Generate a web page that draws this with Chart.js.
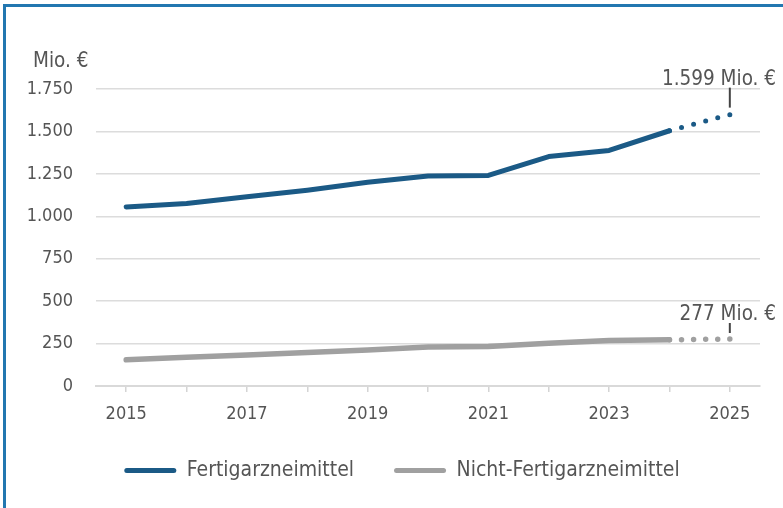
<!DOCTYPE html>
<html>
<head>
<meta charset="utf-8">
<script src="https://cdn.jsdelivr.net/npm/chart.js@4.4.1/dist/chart.umd.min.js"></script>
<style>
  html, body { margin: 0; padding: 0; background: #fff; }
  #wrap { position: relative; width: 783px; height: 508px; overflow: hidden; }
  #frame { position: absolute; left: 3px; top: 4px; width: 900px; height: 700px;
           border-left: 3px solid #2277b0; border-top: 3px solid #2277b0; }
  canvas { position: absolute; left: 0; top: 0; }
</style>
</head>
<body>
<div id="wrap">
  <div id="frame"></div>
  <canvas id="chart" width="783" height="508"></canvas>
</div>
<script>
// data
const years = ['2015','2016','2017','2018','2019','2020','2021','2022','2023','2024','2025'];
const fertig = [1055, 1075, 1115, 1154, 1200, 1237, 1241, 1352, 1388, 1504, 1599];
const nicht = [154, 169, 183, 198, 212, 230, 233, 252, 268, 272, 277];
const seriesNames = ['Fertigarzneimittel', 'Nicht-Fertigarzneimittel'];
const endLabels = ['1.599 Mio. €', '277 Mio. €'];
const unitLabel = 'Mio. €';

const FONT = '"DejaVu Sans Condensed", "DejaVu Sans", sans-serif';
const TXT = '#555555';
const BLUE = '#1b5a86';
const GREY = '#a0a0a0';

function deNum(v){ return String(v).replace(/\B(?=(\d{3})+(?!\d))/g, '.'); }

// dotted for the forecast segment (2024 -> 2025), 5 gaps so a dot lands on 2025
const lastIdx = years.length - 1;
const dotted = ctx => {
  if (ctx.p1DataIndex !== lastIdx) return undefined;
  const d = Math.hypot(ctx.p1.x - ctx.p0.x, ctx.p1.y - ctx.p0.y);
  return [0, d / 5];
};

// end labels + unit label, legend nudged right
const notesPlugin = {
  id: 'notes',
  afterLayout(chart){
    chart.legend.left += 22;
    chart.legend.right += 22;
  },
  afterDraw(chart){
    const c = chart.ctx, x = chart.scales.x, y = chart.scales.y;
    c.save();
    c.fillStyle = TXT;
    c.font = '20.5px ' + FONT;
    c.textBaseline = 'alphabetic';
    c.textAlign = 'left';
    c.fillText(unitLabel, 33, 67);

    const px = x.getPixelForValue(lastIdx);
    const specs = [{ds: 0, top: 27, bot: 7, gap: 3}, {ds: 1, top: 16, bot: 6, gap: 3}];
    specs.forEach((s, i) => {
      const v = chart.data.datasets[s.ds].data[lastIdx];
      const py = y.getPixelForValue(v);
      c.strokeStyle = '#444';
      c.lineWidth = 2;
      c.beginPath();
      c.moveTo(px, py - s.top);
      c.lineTo(px, py - s.bot);
      c.stroke();
      c.textAlign = 'right';
      c.fillText(endLabels[i], 776, py - s.top - s.gap);
    });
    c.restore();
  }
};

new Chart(document.getElementById('chart'), {
  type: 'line',
  data: {
    labels: years,
    datasets: [
      { label: seriesNames[0], data: fertig, borderColor: BLUE, backgroundColor: BLUE,
        borderWidth: 5, borderCapStyle: 'round', borderJoinStyle: 'round',
        pointRadius: 0, tension: 0, segment: { borderDash: dotted } },
      { label: seriesNames[1], data: nicht, borderColor: GREY, backgroundColor: GREY,
        borderWidth: 5.5, borderCapStyle: 'round', borderJoinStyle: 'round',
        pointRadius: 0, tension: 0, segment: { borderDash: dotted } }
    ]
  },
  options: {
    responsive: false,
    animation: false,
    devicePixelRatio: 1,
    layout: { padding: { top: 89, right: 23, left: 0, bottom: 17 } },
    plugins: {
      tooltip: { enabled: false },
      legend: {
        position: 'bottom',
        labels: {
          boxWidth: 52, boxHeight: 5, useBorderRadius: true, borderRadius: 2.5,
          color: TXT, font: { family: FONT, size: 21 }, padding: 40,
          generateLabels: chart => chart.data.datasets.map((d, i) => ({
            text: d.label, fillStyle: d.borderColor, strokeStyle: d.borderColor,
            lineWidth: 0, datasetIndex: i, fontColor: TXT, borderRadius: 2.5
          }))
        }
      }
    },
    scales: {
      x: {
        offset: true,
        grid: { display: true, drawOnChartArea: false, drawTicks: true, tickLength: 6, color: '#d4d4d4', lineWidth: 1.5 },
        border: { display: true, color: '#d9d9d9', width: 2 },
        ticks: {
          autoSkip: false, maxRotation: 0, padding: 12, color: TXT,
          font: { family: FONT, size: 18 },
          callback: (v, i) => i % 2 === 0 ? years[i] : ''
        },
        afterFit: s => { s.height = 34; }
      },
      y: {
        min: 0, max: 1750,
        grid: { color: '#dcdcdc', lineWidth: 1.5, drawTicks: false },
        border: { display: false },
        ticks: {
          stepSize: 250, padding: 23, color: TXT,
          font: { family: FONT, size: 18 },
          callback: v => deNum(v)
        },
        afterFit: s => { s.width = 96; }
      }
    }
  },
  plugins: [notesPlugin]
});
</script>
</body>
</html>
